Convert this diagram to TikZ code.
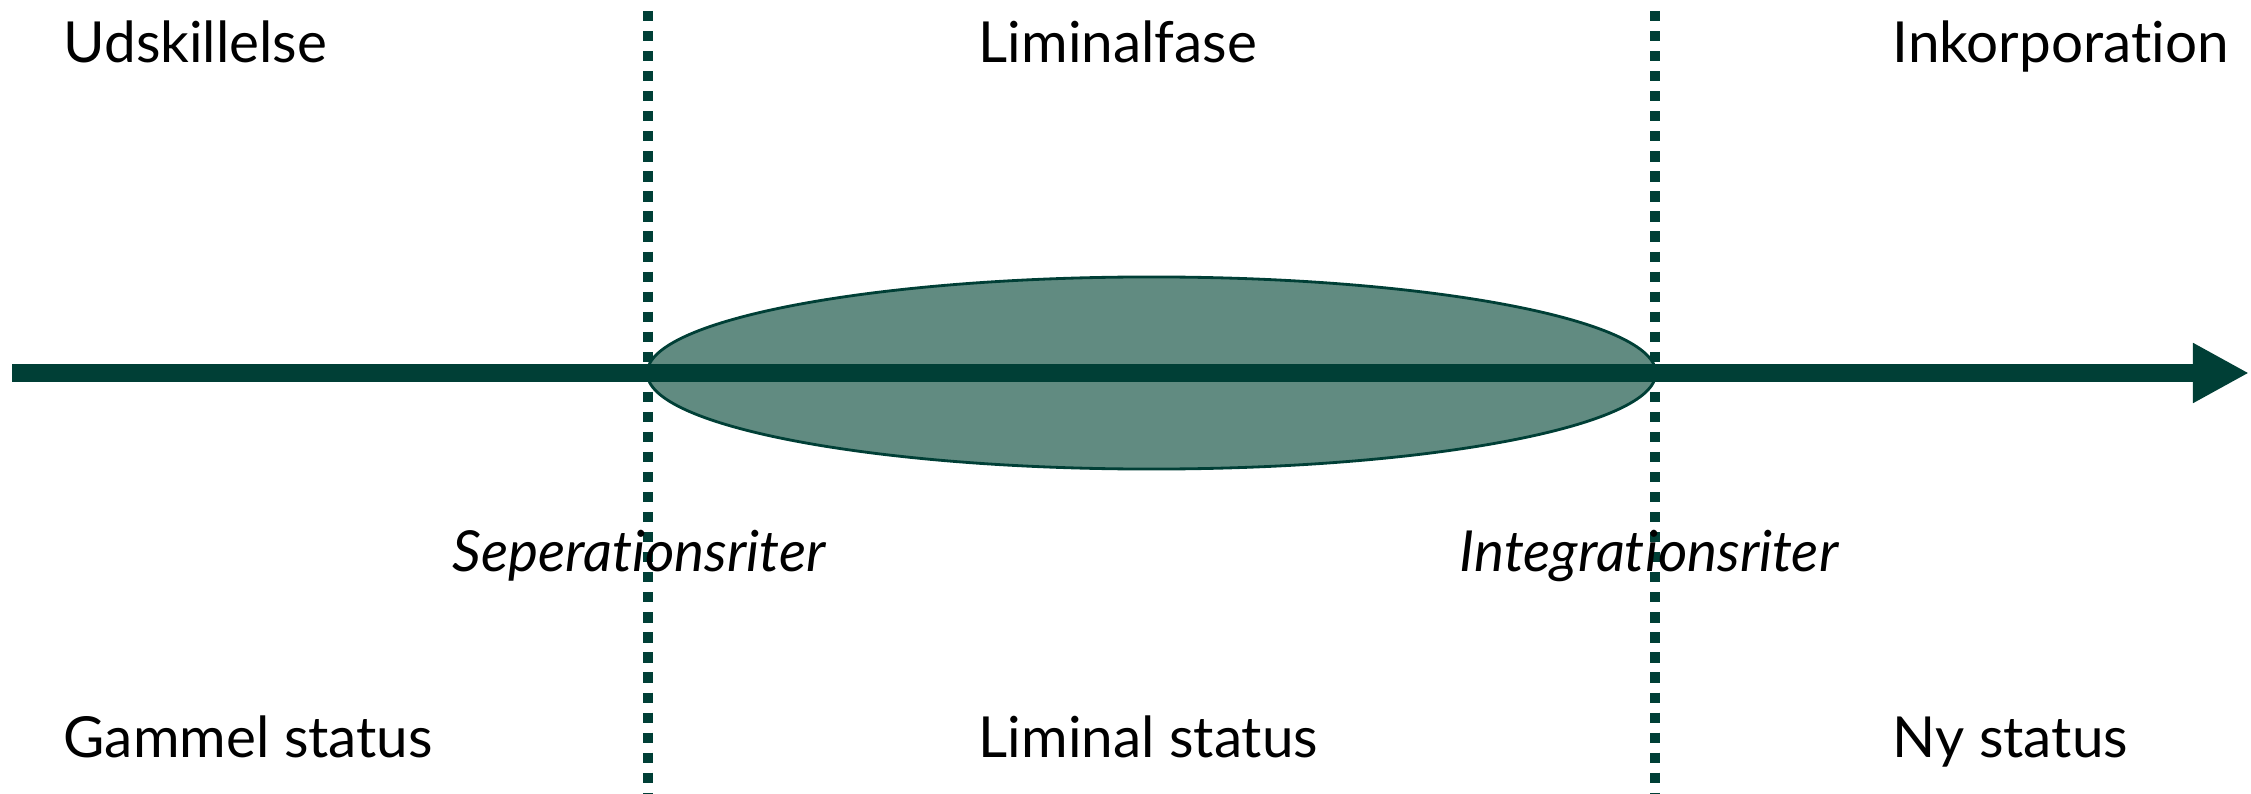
\documentclass[tikz,border=0pt]{standalone}
\usepackage{fontspec}
\setmainfont{Lato}[Ligatures=NoCommon]
\usetikzlibrary{arrows.meta,shapes.geometric}
\definecolor{deepgreen}{HTML}{003F36}
\definecolor{sagegreen}{HTML}{618B81}
\tikzset{
  phase/.style={anchor=base west, inner sep=0pt, font=\fontsize{16.1pt}{20pt}\selectfont},
  rite/.style={phase, font=\fontsize{16.1pt}{20pt}\selectfont\itshape},
  divider/.style={draw=deepgreen, line width=2.9pt, dash pattern=on 2.9pt off 2.8pt},
  timeline/.style={draw=deepgreen, line width=5.4pt, -{Triangle[length=0.56cm,width=0.56cm]}},
  liminal/.style={ellipse, draw=deepgreen, line width=0.8pt, fill=sagegreen,
    minimum width=10.08cm, minimum height=1.92cm, inner sep=0pt}
}
\begin{document}
\begin{tikzpicture}[x=0.01cm,y=-0.01cm]
  \useasboundingbox (0,0) rectangle (2251,794);

  % phase boundaries
  \coordinate (d1top) at (648,11);
  \coordinate (d1bot) at (648,794);
  \coordinate (d2top) at (1655,11);
  \coordinate (d2bot) at (1655,794);
  \draw[divider] (d1top) -- (d1bot);
  \draw[divider] (d2top) -- (d2bot);

  % liminal period
  \node[liminal] (lim) at (1151.5,373) {};

  % time axis
  \coordinate (tstart) at (12,373);
  \coordinate (tend) at (2249,373);
  \draw[timeline] (tstart) -- (tend);

  % phase headings
  \node[phase] (h1) at (63,63) {Udskillelse};
  \node[phase] (h2) at (978,63) {Liminalfase};
  \node[phase] (h3) at (1892,63) {Inkorporation};

  % rites
  \node[rite] (r1) at (452,571) {Seperationsriter};
  \node[rite] (r2) at (1459,571) {Integrationsriter};

  % statuses
  \node[phase] (s1) at (63,757) {Gammel status};
  \node[phase] (s2) at (978,757) {Liminal status};
  \node[phase] (s3) at (1892,757) {Ny status};
\end{tikzpicture}
\end{document}
